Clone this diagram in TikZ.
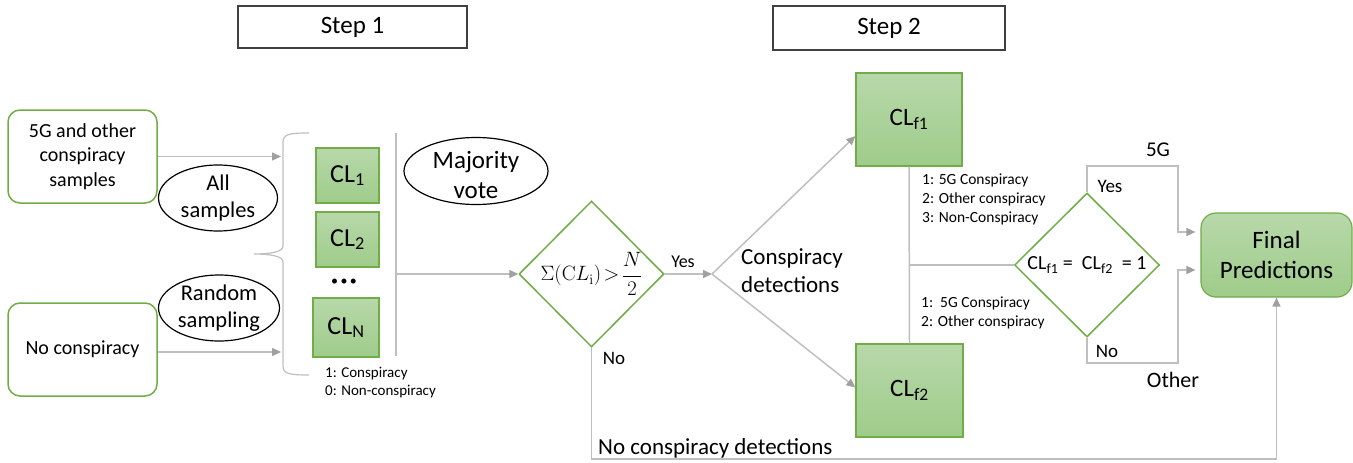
\documentclass[tikz,border=0pt]{standalone}
\usepackage[no-math]{fontspec}
\setmainfont{Carlito}
\usetikzlibrary{shapes.geometric,arrows.meta,calc}
\definecolor{gborder}{RGB}{112,173,71}
\definecolor{gtop}{RGB}{184,216,170}
\definecolor{gbot}{RGB}{158,204,138}
\definecolor{lgray}{RGB}{191,191,191}
\definecolor{tgray}{RGB}{160,160,160}
\newcommand\myfs[1]{\fontsize{#1}{1.22\dimexpr#1pt\relax}\selectfont}
\begin{document}
\begin{tikzpicture}[x=1pt,y=-1pt,
  stepbox/.style={draw=black!75,line width=1.5pt,inner sep=0pt,font={\myfs{25}}},
  wbox/.style={draw=gborder,line width=1.5pt,rounded corners=12pt,fill=white,inner sep=0pt,align=center,font={\myfs{20}}},
  gbox/.style={draw=gborder,line width=1.2pt,top color=gtop,bottom color=gbot,inner sep=0pt},
  oval/.style={ellipse,draw=black,line width=1.2pt,inner sep=0pt},
  dia/.style={diamond,draw=gborder,line width=1.5pt,fill=white,inner sep=0pt,aspect=1},
  gline/.style={draw=lgray,line width=1.5pt},
  arr/.style={gline,-{Triangle[length=9pt,width=8pt,color=tgray]}},
  small/.style={anchor=west,align=left,inner sep=0pt,font={\myfs{15.5}}}
]
\useasboundingbox (0,0) rectangle (1353,463);

% step headers
\node[stepbox,minimum width=229pt,minimum height=42pt] (s1) at (352.5,27) {Step 1};
\node[stepbox,minimum width=232pt,minimum height=44pt] (s2) at (889,28) {Step 2};

% input boxes
\node[wbox,minimum width=149pt,minimum height=93pt] (b1) at (82.5,156.5) {5G and other\\conspiracy\\samples};
\node[wbox,minimum width=149pt,minimum height=93pt] (b2) at (82.5,349.5) {No conspiracy};

% ellipses
\node[oval,minimum width=119pt,minimum height=66pt,
  label={[align=center,font={\myfs{22.5}}]center:All\\samples}] (e1) at (218,198) {};
\node[oval,minimum width=121pt,minimum height=66pt,
  label={[align=center,font={\myfs{22.5}}]center:Random\\sampling}] (e2) at (219,308) {};
\node[oval,minimum width=144pt,minimum height=67pt,
  label={[align=center,font={\myfs{25}},yshift=-4pt]center:Majority\\vote}] (e3) at (476,171) {};

% classifiers step 1
\node[gbox,minimum width=63pt,minimum height=55pt,font={\myfs{26}}] (c1) at (347.5,175.5) {CL\textsubscript{1}};
\node[gbox,minimum width=63pt,minimum height=55pt,font={\myfs{26}}] (c2) at (347.5,239.5) {CL\textsubscript{2}};
\node[font={\myfs{14}},inner sep=0pt] (dots) at (344,282) {•\,•\,•};
\node[gbox,minimum width=66pt,minimum height=59pt,font={\myfs{26}}] (cn) at (346,327.5) {CL\textsubscript{N}};
\node[small,font={\myfs{15}}] (l1) at (325,382.5) {1: Conspiracy\\0: Non-conspiracy};

% brace
\draw[gline,line width=1.2pt] (309,133) .. controls (290,133) and (283,134) .. (283,142) -- (283,246)
  .. controls (283,252) and (270,254) .. (254,254)
  .. controls (270,254) and (283,256) .. (283,262) -- (283,366)
  .. controls (283,374) and (290,375) .. (309,375);

% diamond 1
\node[dia,minimum width=145pt,minimum height=146pt,
  label={[font={\myfs{22}}]center:$\displaystyle\Sigma(\mathrm{C}L_{\mathrm{i}})\! >\! \frac{N}{2}$}] (d1) at (591.5,274) {};

% step 2 classifiers
\node[gbox,minimum width=106pt,minimum height=93pt,font={\myfs{25}}] (cf1) at (909,119.5) {CL\textsubscript{f1}};
\node[gbox,minimum width=107pt,minimum height=93pt,font={\myfs{25}}] (cf2) at (909.5,390.5) {CL\textsubscript{f2}};
\node[small] (l2) at (922,199.5) {1: 5G Conspiracy\\2: Other conspiracy\\3: Non-Conspiracy};
\node[small] (l3) at (921,312.5) {1:~~5G Conspiracy\\2: Other conspiracy};

% diamond 2
\node[dia,minimum width=145pt,minimum height=144pt,
  label={[font={\myfs{20}}]center:CL\textsubscript{f1} =~~CL\textsubscript{f2}~~= 1}] (d2) at (1087,265) {};

% final
\node[gbox,rounded corners=15pt,minimum width=151pt,minimum height=84pt,align=center,font={\myfs{25}}] (fp) at (1276.5,255) {Final\\Predictions};

% labels
\node[anchor=west,align=left,inner sep=0pt,font={\myfs{23}}] (cd) at (741,270.5) {Conspiracy\\detections};
\node[font={\myfs{18}},inner sep=0pt] (yes1) at (683,262) {Yes};
\node[font={\myfs{19}},inner sep=0pt] (no1) at (614,358) {No};
\node[anchor=west,inner sep=0pt,font={\myfs{23}}] (ncd) at (598,448) {No conspiracy detections};
\node[font={\myfs{21}},inner sep=0pt] (g5) at (1158,150) {5G};
\node[font={\myfs{19}},inner sep=0pt] (yes2) at (1110,186) {Yes};
\node[font={\myfs{19}},inner sep=0pt] (no2) at (1107,351) {No};
\node[font={\myfs{22}},inner sep=0pt] (oth) at (1173,380) {Other};

% connectors
\coordinate (bx) at (281,0);
\draw[arr] (b1.east) -- (b1.east -| bx);
\draw[arr] ([yshift=-2.5pt]b2.east) -- ([yshift=-2.5pt]b2.east -| bx);
\coordinate (vt) at (396,133);
\coordinate (vb) at (396,356);
\draw[gline] (vt) -- (vb);
\draw[arr] (vt |- d1.west) -- (d1.west);
\coordinate (sp) at (712,274);
\draw[arr] (d1.east) -- (sp);
\draw[arr] (sp) -- ([yshift=-16.5pt]cf1.west);
\draw[arr] (sp) -- ([yshift=3pt]cf2.west);
\draw[gline] (cf1.south) -- (cf2.north);
\draw[gline] (cf1.south |- d2.west) -- (d2.west);
\coordinate (rx) at (1178,0);
\coordinate (ty) at (0,166);
\coordinate (by) at (0,363);
\draw[arr,shorten >=5pt] (d2.north) |- (rx |- ty) |- ([yshift=23pt]fp.west);
\draw[arr,shorten >=5pt] (d2.south) |- (rx |- by) |- ([yshift=-15pt]fp.west);
\coordinate (bot) at (0,459);
\draw[arr] (d1.south) |- (fp.south |- bot) -- (fp.south);
\end{tikzpicture}
\end{document}
